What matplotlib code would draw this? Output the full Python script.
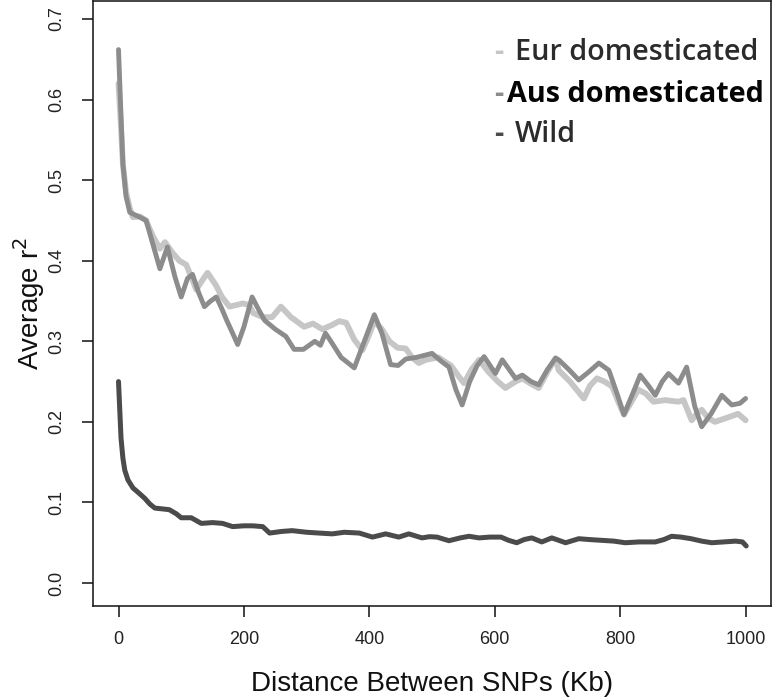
import numpy as np
import matplotlib
matplotlib.use("Agg")
import matplotlib.pyplot as plt

# ----------------------------------------
# datos (distancia en Kb, r^2 medio)
# ----------------------------------------
wild_x = [0, 2, 4, 7, 10, 15, 23, 32, 42, 50, 58, 70, 81, 92, 100, 116, 132, 150,
          166, 182, 200, 214, 230, 241, 260, 277, 300, 320, 341, 360, 384, 405,
          426, 447, 463, 484, 496, 508, 527, 545, 559, 575, 592, 610, 622, 635,
          647, 659, 675, 691, 702, 713, 734, 750, 770, 790, 808, 830, 856, 870,
          882, 897, 913, 930, 946, 965, 984, 995, 1001]
wild_y = [0.25, 0.215, 0.18, 0.155, 0.14, 0.128, 0.118, 0.112, 0.105, 0.098, 0.093, 0.092, 0.091, 0.086, 0.081, 0.081, 0.074, 0.075,
          0.074, 0.070, 0.071, 0.071, 0.070, 0.062, 0.064, 0.065, 0.063, 0.062, 0.061, 0.063, 0.062, 0.057,
          0.061, 0.057, 0.061, 0.056, 0.0575, 0.057, 0.0525, 0.056, 0.058, 0.056, 0.057, 0.057, 0.053, 0.050,
          0.054, 0.056, 0.051, 0.056, 0.053, 0.050, 0.055, 0.054, 0.053, 0.052, 0.050, 0.051, 0.051, 0.054,
          0.058, 0.057, 0.055, 0.052, 0.050, 0.051, 0.052, 0.051, 0.046]

aus_x = [0, 3, 7, 12, 18, 34, 44, 55, 66, 78, 90, 100, 110, 118, 128, 137, 147, 156,
         165, 172, 182, 190, 200, 213, 223, 233, 250, 267, 280, 295, 313, 322, 330,
         337, 355, 376, 392, 408, 420, 434, 446, 458, 475, 490, 500, 515, 527, 538,
         548, 560, 572, 583, 601, 612, 633, 644, 658, 670, 684, 697, 702, 718, 734,
         750, 766, 782, 795, 806, 820, 832, 845, 856, 867, 877, 893, 906, 919, 930,
         945, 962, 978, 991, 1000]
aus_y = [0.662, 0.60, 0.52, 0.48, 0.46, 0.454, 0.45, 0.42, 0.39, 0.417, 0.38, 0.355, 0.378, 0.383, 0.36, 0.343, 0.35, 0.355,
         0.34, 0.327, 0.31, 0.296, 0.318, 0.355, 0.34, 0.326, 0.315, 0.306, 0.29, 0.29, 0.30, 0.295, 0.31,
         0.302, 0.28, 0.267, 0.30, 0.333, 0.31, 0.271, 0.27, 0.278, 0.28, 0.283, 0.285, 0.275, 0.268, 0.24,
         0.221, 0.25, 0.27, 0.281, 0.26, 0.277, 0.254, 0.258, 0.25, 0.246, 0.265, 0.279, 0.277, 0.265, 0.252,
         0.262, 0.273, 0.264, 0.235, 0.209, 0.235, 0.258, 0.245, 0.233, 0.25, 0.26, 0.248, 0.268, 0.219, 0.194,
         0.21, 0.233, 0.221, 0.223, 0.229]

eur_x = [0, 3, 7, 12, 18, 23, 34, 44, 55, 66, 74, 86, 97, 108, 116, 124, 133, 142,
         155, 165, 177, 188, 198, 208, 215, 230, 245, 259, 275, 296, 310, 325, 340,
         352, 363, 376, 389, 398, 408, 420, 432, 445, 458, 468, 479, 490, 510, 530,
         543, 551, 563, 575, 590, 605, 617, 633, 644, 658, 670, 684, 697, 702, 720,
         742, 752, 763, 775, 787, 797, 806, 818, 829, 841, 853, 872, 893, 901, 914,
         922, 930, 940, 951, 970, 988, 1000]
eur_y = [0.62, 0.58, 0.52, 0.485, 0.465, 0.454, 0.455, 0.45, 0.43, 0.415, 0.423, 0.41, 0.40, 0.395, 0.38, 0.364, 0.375, 0.385,
         0.37, 0.355, 0.343, 0.345, 0.347, 0.345, 0.335, 0.33, 0.33, 0.343, 0.33, 0.318, 0.322, 0.315, 0.32,
         0.325, 0.323, 0.302, 0.289, 0.305, 0.325, 0.315, 0.30, 0.292, 0.291, 0.28, 0.273, 0.277, 0.28, 0.27,
         0.256, 0.248, 0.265, 0.277, 0.262, 0.25, 0.242, 0.25, 0.254, 0.247, 0.242, 0.262, 0.279, 0.264, 0.25,
         0.229, 0.245, 0.254, 0.25, 0.244, 0.225, 0.209, 0.225, 0.24, 0.235, 0.225, 0.227, 0.225, 0.227, 0.202,
         0.21, 0.215, 0.205, 0.2, 0.205, 0.21, 0.202]

labels = ['Eur domesticated', 'Aus domesticated', 'Wild']
colors = ['#c6c6c6', '#8c8c8c', '#4b4b4b']

x_ticks = [0, 200, 400, 600, 800, 1000]
y_ticks = [0.0, 0.1, 0.2, 0.3, 0.4, 0.5, 0.6, 0.7]

# ----------------------------------------
# figura
# ----------------------------------------
fig = plt.figure(figsize=(7.74, 6.98), dpi=100)
ax = fig.add_axes([0.1207, 0.1324, 0.875, 0.8658])

ax.plot(wild_x, wild_y, color=colors[2], lw=3.6, solid_joinstyle='round', solid_capstyle='round')
ax.plot(eur_x, eur_y, color=colors[0], lw=4.2, solid_joinstyle='round', solid_capstyle='round')
ax.plot(aus_x, aus_y, color=colors[1], lw=3.5, solid_joinstyle='round', solid_capstyle='round')

ax.set_xlim(-40, 1040)
ax.set_ylim(-0.028, 0.722)
ax.set_xticks(x_ticks)
ax.set_yticks(y_ticks)
ax.set_xticklabels([str(t) for t in x_ticks], fontsize=13, family='Liberation Sans', color='#222222')
ax.set_yticklabels(['%.1f' % t for t in y_ticks], fontsize=13, family='Liberation Sans',
                   rotation=90, va='center', color='#222222')
ax.tick_params(axis='both', direction='out', length=8, width=1.1, color='#111111')
ax.tick_params(axis='x', pad=10)
ax.tick_params(axis='y', pad=12)
for s in ax.spines.values():
    s.set_linewidth(1.1)
    s.set_color('#111111')

ax.set_xlabel('Distance Between SNPs (Kb)', fontsize=20, family='Liberation Sans', color='#111111', labelpad=17)
ax.set_ylabel('Average r$^2$', fontsize=20, family='Liberation Sans', color='#111111', labelpad=1)

# leyenda hecha a mano: guion de color + texto
rows_y = [52, 94, 135]
text_x = [515, 507, 515]
weights = ['semibold', 'bold', 'semibold']
text_colors = ['#2b2b2b', '#050505', '#2b2b2b']
for i in range(3):
    fig.text(494 / 774, 1 - rows_y[i] / 698, '-', color=colors[i], fontsize=20.7,
             family='Open Sans', weight='bold', va='center', ha='left')
    fig.text(text_x[i] / 774, 1 - rows_y[i] / 698, labels[i], color=text_colors[i], fontsize=20.7,
             family='Open Sans', weight=weights[i], va='center', ha='left')

fig.savefig('out.png', dpi=100)
